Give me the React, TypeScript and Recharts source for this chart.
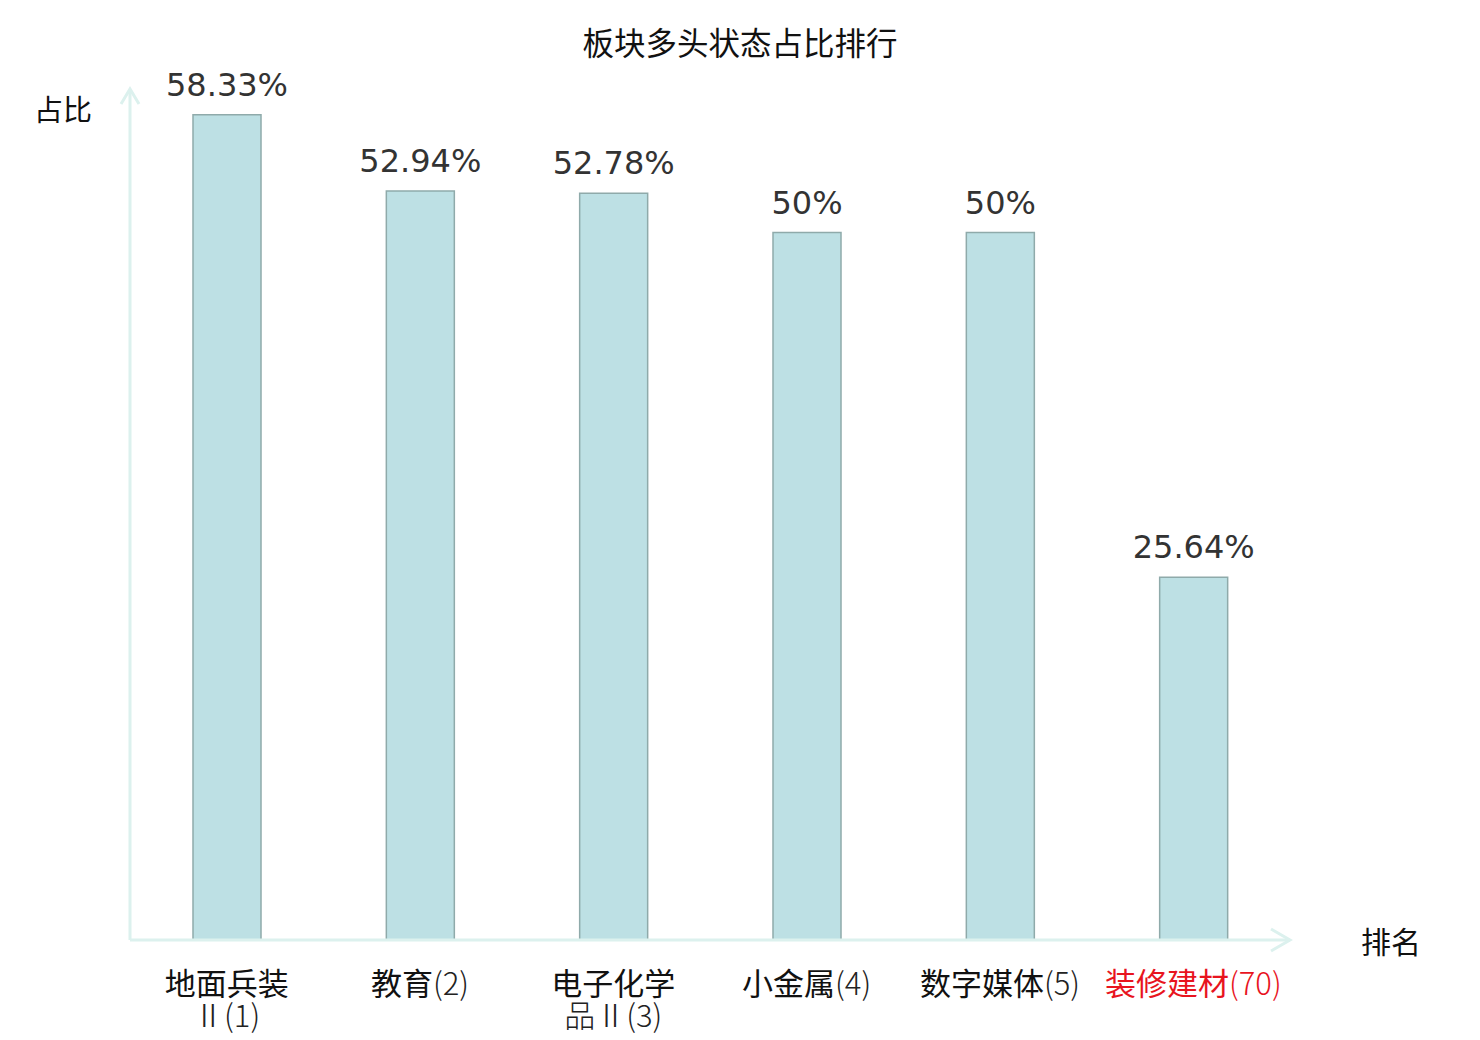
import React from 'react';
import { BarChart, Bar, XAxis, YAxis, LabelList } from 'recharts';

const sectorNames = ['地面兵装Ⅱ', '教育', '电子化学品Ⅱ', '小金属', '数字媒体', '装修建材'];
const sectorRanks = [1, 2, 3, 4, 5, 70];
const bullishShare = [58.33, 52.94, 52.78, 50, 50, 25.64];
const highlightIndex = [5];

const chartTitle = '板块多头状态占比排行';
const yAxisTitle = '占比';
const xAxisTitle = '排名';

const data = sectorNames.map((name, i) => ({
  name,
  rank: sectorRanks[i],
  value: bullishShare[i],
  highlight: highlightIndex.includes(i),
}));

const AXIS_COLOR = '#dcf1ee';
const CJK = '"Noto Sans CJK SC", "DejaVu Sans", sans-serif';

const CategoryTick = (props: any) => {
  const { x, y, index } = props;
  const d = data[index];
  if (!d) return null;
  const color = d.highlight ? '#e8141e' : '#111';
  const subColor = d.highlight ? color : '#222';
  const rankText = `(${d.rank})`;
  const chars = Array.from(d.name);
  const wrap = chars.length > 4;
  const first = wrap ? chars.slice(0, 4).join('') : d.name;
  const second = wrap ? chars.slice(4).join('') + rankText : '';
  return (
    <text
      x={x}
      y={y + 53}
      textAnchor="middle"
      fontSize={31}
      fontFamily={CJK}
      fill={color}
    >
      <tspan>{first}</tspan>
      {!wrap && <tspan fontWeight={300} fill={subColor}>{rankText}</tspan>}
      {wrap && (
        <tspan x={x} dy={32} fontWeight={300} fill={subColor}>
          {second}
        </tspan>
      )}
    </text>
  );
};

const YAxisLabel = (props: any) => {
  const vb = props.viewBox || { x: 0, y: 91, width: 130, height: 849 };
  const ax = vb.x + vb.width;
  const ay = vb.y - 2;
  return (
    <g>
      <path
        d={`M${ax - 9},${ay + 15} L${ax},${ay} L${ax + 9},${ay + 15}`}
        fill="none"
        stroke={AXIS_COLOR}
        strokeWidth={3}
      />
      <line x1={ax} y1={ay} x2={ax} y2={vb.y} stroke={AXIS_COLOR} strokeWidth={3} />
      <text
        x={ax - 67}
        y={vb.y + 30}
        textAnchor="middle"
        fontSize={29}
        fontFamily={CJK}
        fill="#111"
      >
        {yAxisTitle}
      </text>
    </g>
  );
};

const XAxisLabel = (props: any) => {
  const vb = props.viewBox || { x: 130, y: 940, width: 1160, height: 100 };
  const ax = vb.x + vb.width;
  const ay = vb.y;
  return (
    <g>
      <path
        d={`M${ax - 19},${ay - 11} L${ax},${ay} L${ax - 19},${ay + 11}`}
        fill="none"
        stroke={AXIS_COLOR}
        strokeWidth={3}
      />
      <text
        x={ax + 101}
        y={ay + 13}
        textAnchor="middle"
        fontSize={30}
        fontFamily={CJK}
        fill="#111"
      >
        {xAxisTitle}
      </text>
    </g>
  );
};

export default function App() {
  return (
    <div style={{ position: 'absolute', left: 0, top: 0, width: 1480, height: 1040, background: '#fff' }}>
      <div
        style={{
          position: 'absolute',
          left: 0,
          top: 24,
          width: 1480,
          textAlign: 'center',
          fontFamily: CJK,
          fontSize: 31.5,
          lineHeight: '34px',
          color: '#111',
        }}
      >
        {chartTitle}
      </div>
      <BarChart
        width={1480}
        height={1040}
        data={data}
        margin={{ top: 91, right: 190, bottom: 0, left: 0 }}
        style={{ position: 'absolute', left: 0, top: 0 }}
      >
        <XAxis
          dataKey="name"
          height={100}
          axisLine={{ stroke: AXIS_COLOR, strokeWidth: 3 }}
          tickLine={false}
          tickSize={0}
          tick={<CategoryTick />}
          interval={0}
          label={<XAxisLabel />}
        />
        <YAxis
          width={130}
          domain={[0, 60]}
          axisLine={{ stroke: AXIS_COLOR, strokeWidth: 3 }}
          tickLine={false}
          tick={false}
          label={<YAxisLabel />}
        />
        <Bar
          dataKey="value"
          barSize={68}
          fill="#bde0e4"
          stroke="#8faaaa"
          strokeWidth={1.5}
          isAnimationActive={false}
        >
          <LabelList
            dataKey="value"
            position="top"
            offset={19}
            formatter={(v: any) => `${v}%`}
            fill="#333"
            fontSize={32}
            fontFamily='"DejaVu Sans", sans-serif'
          />
        </Bar>
      </BarChart>
    </div>
  );
}
